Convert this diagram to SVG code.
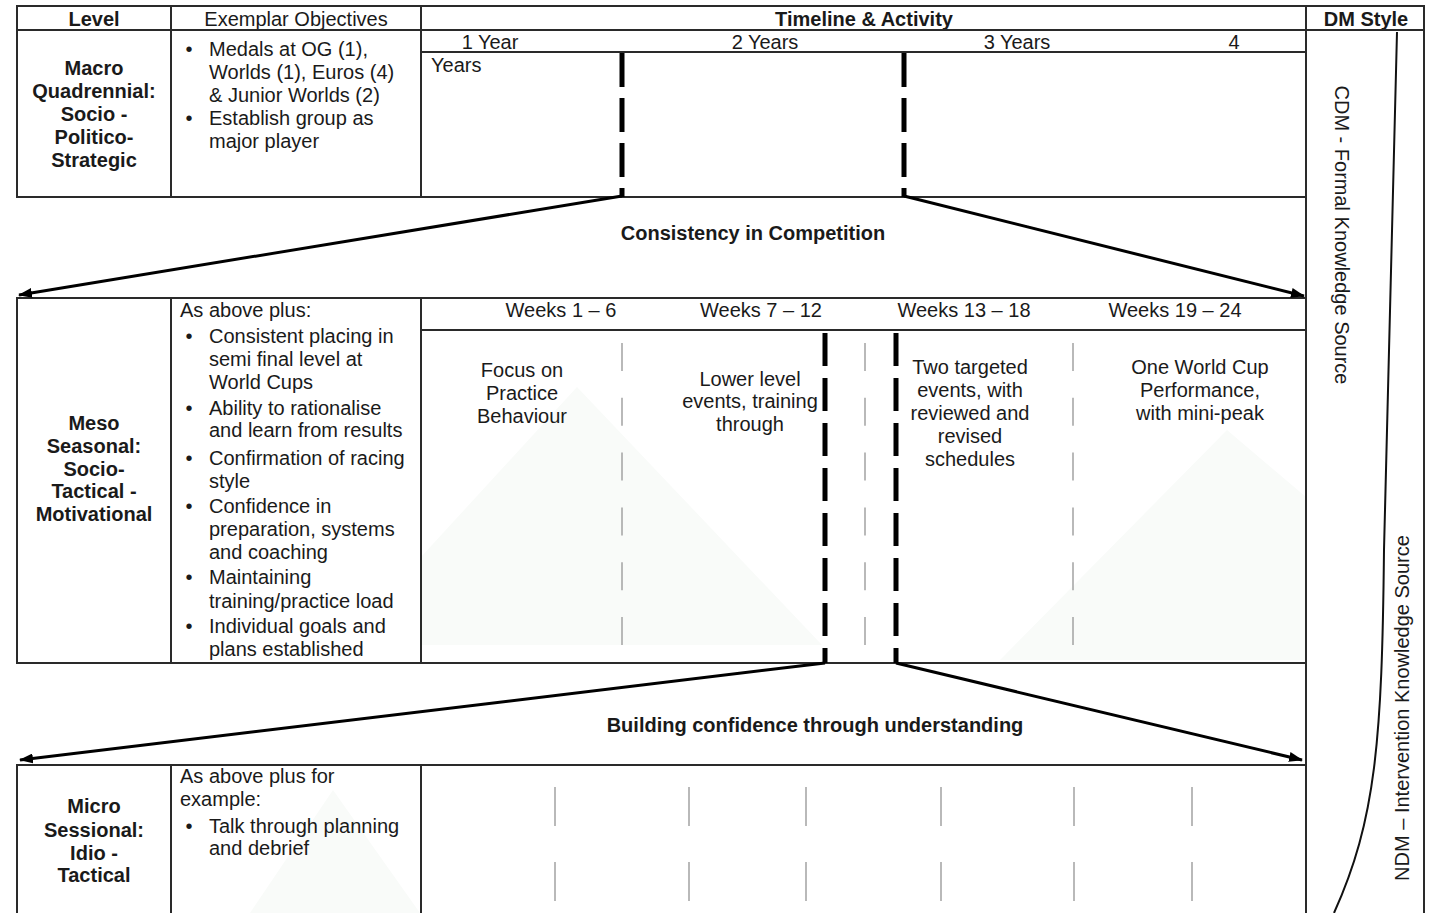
<svg xmlns="http://www.w3.org/2000/svg" width="1438" height="913" viewBox="0 0 1438 913">
<style>
.cell{fill:none;stroke:#2a2a2a;stroke-width:2}
.t{font-family:"Liberation Sans",Arial,sans-serif;font-size:20px;fill:#1a1a1a}
.b{font-family:"Liberation Sans",Arial,sans-serif;font-size:20px;font-weight:bold;fill:#1a1a1a}
.m{text-anchor:middle}
.thick{stroke:#000;stroke-width:5;fill:none}
.grey{stroke:#a8a8a8;stroke-width:1.6;fill:none}
.conn{stroke:#000;stroke-width:3;fill:none}
.wm{fill:#f9fbf9;stroke:none}
</style>
<defs>
<marker id="arr" viewBox="0 0 14 10" refX="13" refY="5" markerWidth="14" markerHeight="10" markerUnits="userSpaceOnUse" orient="auto">
<path d="M0,0 L14,5 L0,10 z" fill="#000"/>
</marker>
</defs>
<rect width="1438" height="913" fill="#fff"/>
<g id="watermark">
<polygon class="wm" points="421,557 577,387 822,645 421,645"/>
<polygon class="wm" points="1000,660 1227,430 1306,497 1306,660"/>
<polygon class="wm" points="250,913 333,790 420,913"/>
</g>

<g id="header">
<rect class="cell" x="17" y="6" width="154" height="24"/>
<rect class="cell" x="171" y="6" width="250" height="24"/>
<rect class="cell" x="421" y="6" width="885" height="24"/>
<rect class="cell" x="1306" y="6" width="118" height="24"/>
<text class="b m" x="94" y="26">Level</text>
<text class="t m" x="296" y="26">Exemplar Objectives</text>
<text class="b m" x="864" y="26">Timeline &amp; Activity</text>
<text class="b m" x="1366" y="26">DM Style</text>
</g>

<g id="macro-level">
<rect class="cell" x="17" y="30" width="154" height="167"/>
<text class="b m" x="94" y="75">Macro</text>
<text class="b m" x="94" y="98">Quadrennial:</text>
<text class="b m" x="94" y="121">Socio -</text>
<text class="b m" x="94" y="144">Politico-</text>
<text class="b m" x="94" y="167">Strategic</text>
</g>
<g id="macro-objectives">
<rect class="cell" x="171" y="30" width="250" height="167"/>
<text class="t m" x="189" y="56">•</text>
<text class="t" x="209" y="56">Medals at OG (1),</text>
<text class="t" x="209" y="79">Worlds (1), Euros (4)</text>
<text class="t" x="209" y="102">&amp; Junior Worlds (2)</text>
<text class="t m" x="189" y="125">•</text>
<text class="t" x="209" y="125">Establish group as</text>
<text class="t" x="209" y="148">major player</text>
</g>
<g id="macro-timeline">
<rect class="cell" x="421" y="30" width="885" height="22"/>
<rect class="cell" x="421" y="52" width="885" height="145"/>
<text class="t m" x="490" y="49">1 Year</text>
<text class="t m" x="765" y="49">2 Years</text>
<text class="t m" x="1017" y="49">3 Years</text>
<text class="t m" x="1234" y="49">4</text>
<text class="t" x="431" y="72">Years</text>
<line class="thick" x1="622" y1="53" x2="622" y2="197" stroke-dasharray="34 11"/>
<line class="thick" x1="904" y1="53" x2="904" y2="197" stroke-dasharray="34 11"/>
</g>

<g id="dm-style">
<rect class="cell" x="1306" y="30" width="118" height="900"/>
<path d="M1397,32 L1384,550 C1382,740 1376,820 1334,913" fill="none" stroke="#111" stroke-width="2"/>
<text class="t m" transform="translate(1342,235) rotate(90)" dominant-baseline="central">CDM - Formal Knowledge Source</text>
<text class="t m" transform="translate(1402,708) rotate(-90)" dominant-baseline="central">NDM – Intervention Knowledge Source</text>
</g>

<g id="meso-level">
<rect class="cell" x="17" y="298" width="154" height="365"/>
<text class="b m" x="94" y="430">Meso</text>
<text class="b m" x="94" y="453">Seasonal:</text>
<text class="b m" x="94" y="476">Socio-</text>
<text class="b m" x="94" y="498">Tactical -</text>
<text class="b m" x="94" y="521">Motivational</text>
</g>
<g id="meso-objectives">
<rect class="cell" x="171" y="298" width="250" height="365"/>
<text class="t" x="180" y="317">As above plus:</text>
<text class="t m" x="189" y="343">•</text>
<text class="t" x="209" y="343">Consistent placing in</text>
<text class="t" x="209" y="366">semi final level at</text>
<text class="t" x="209" y="389">World Cups</text>
<text class="t m" x="189" y="415">•</text>
<text class="t" x="209" y="415">Ability to rationalise</text>
<text class="t" x="209" y="437">and learn from results</text>
<text class="t m" x="189" y="465">•</text>
<text class="t" x="209" y="465">Confirmation of racing</text>
<text class="t" x="209" y="488">style</text>
<text class="t m" x="189" y="513">•</text>
<text class="t" x="209" y="513">Confidence in</text>
<text class="t" x="209" y="536">preparation, systems</text>
<text class="t" x="209" y="559">and coaching</text>
<text class="t m" x="189" y="584">•</text>
<text class="t" x="209" y="584">Maintaining</text>
<text class="t" x="209" y="608">training/practice load</text>
<text class="t m" x="189" y="633">•</text>
<text class="t" x="209" y="633">Individual goals and</text>
<text class="t" x="209" y="656">plans established</text>
</g>
<g id="meso-timeline">
<rect class="cell" x="421" y="298" width="885" height="32"/>
<rect class="cell" x="421" y="330" width="885" height="333"/>
<text class="t m" x="561" y="317">Weeks 1 – 6</text>
<text class="t m" x="761" y="317">Weeks 7 – 12</text>
<text class="t m" x="964" y="317">Weeks 13 – 18</text>
<text class="t m" x="1175" y="317">Weeks 19 – 24</text>
<line class="grey" x1="622" y1="343" x2="622" y2="645" stroke-dasharray="28 26.8"/>
<line class="grey" x1="865" y1="343" x2="865" y2="645" stroke-dasharray="28 26.8"/>
<line class="grey" x1="1073" y1="343" x2="1073" y2="645" stroke-dasharray="28 26.8"/>
<line class="thick" x1="825" y1="333" x2="825" y2="663" stroke-dasharray="33 12"/>
<line class="thick" x1="896" y1="333" x2="896" y2="663" stroke-dasharray="33 12"/>
<text class="t m" x="522" y="377">Focus on</text>
<text class="t m" x="522" y="400">Practice</text>
<text class="t m" x="522" y="423">Behaviour</text>
<text class="t m" x="750" y="386">Lower level</text>
<text class="t m" x="750" y="408">events, training</text>
<text class="t m" x="750" y="431">through</text>
<text class="t m" x="970" y="374">Two targeted</text>
<text class="t m" x="970" y="397">events, with</text>
<text class="t m" x="970" y="420">reviewed and</text>
<text class="t m" x="970" y="443">revised</text>
<text class="t m" x="970" y="466">schedules</text>
<text class="t m" x="1200" y="374">One World Cup</text>
<text class="t m" x="1200" y="397">Performance,</text>
<text class="t m" x="1200" y="420">with mini-peak</text>
</g>

<g id="micro-level">
<rect class="cell" x="17" y="765" width="154" height="170"/>
<text class="b m" x="94" y="813">Micro</text>
<text class="b m" x="94" y="837">Sessional:</text>
<text class="b m" x="94" y="860">Idio -</text>
<text class="b m" x="94" y="882">Tactical</text>
</g>
<g id="micro-objectives">
<rect class="cell" x="171" y="765" width="250" height="170"/>
<text class="t" x="180" y="783">As above plus for</text>
<text class="t" x="180" y="806">example:</text>
<text class="t m" x="189" y="833">•</text>
<text class="t" x="209" y="833">Talk through planning</text>
<text class="t" x="209" y="855">and debrief</text>
</g>
<g id="micro-timeline">
<rect class="cell" x="421" y="765" width="885" height="170"/>
<g class="grey" stroke-dasharray="39 36">
<line x1="555" y1="787" x2="555" y2="913"/>
<line x1="689" y1="787" x2="689" y2="913"/>
<line x1="806" y1="787" x2="806" y2="913"/>
<line x1="941" y1="787" x2="941" y2="913"/>
<line x1="1074" y1="787" x2="1074" y2="913"/>
<line x1="1192" y1="787" x2="1192" y2="913"/>
</g>
</g>

<g id="connectors">
<line class="conn" x1="622" y1="196" x2="19" y2="295" marker-end="url(#arr)"/>
<line class="conn" x1="904" y1="196" x2="1304" y2="296" marker-end="url(#arr)"/>
<line class="conn" x1="825" y1="663" x2="20" y2="760" marker-end="url(#arr)"/>
<line class="conn" x1="896" y1="663" x2="1302" y2="760" marker-end="url(#arr)"/>
<text class="b m" x="753" y="240">Consistency in Competition</text>
<text class="b m" x="815" y="732">Building confidence through understanding</text>
</g>
</svg>
